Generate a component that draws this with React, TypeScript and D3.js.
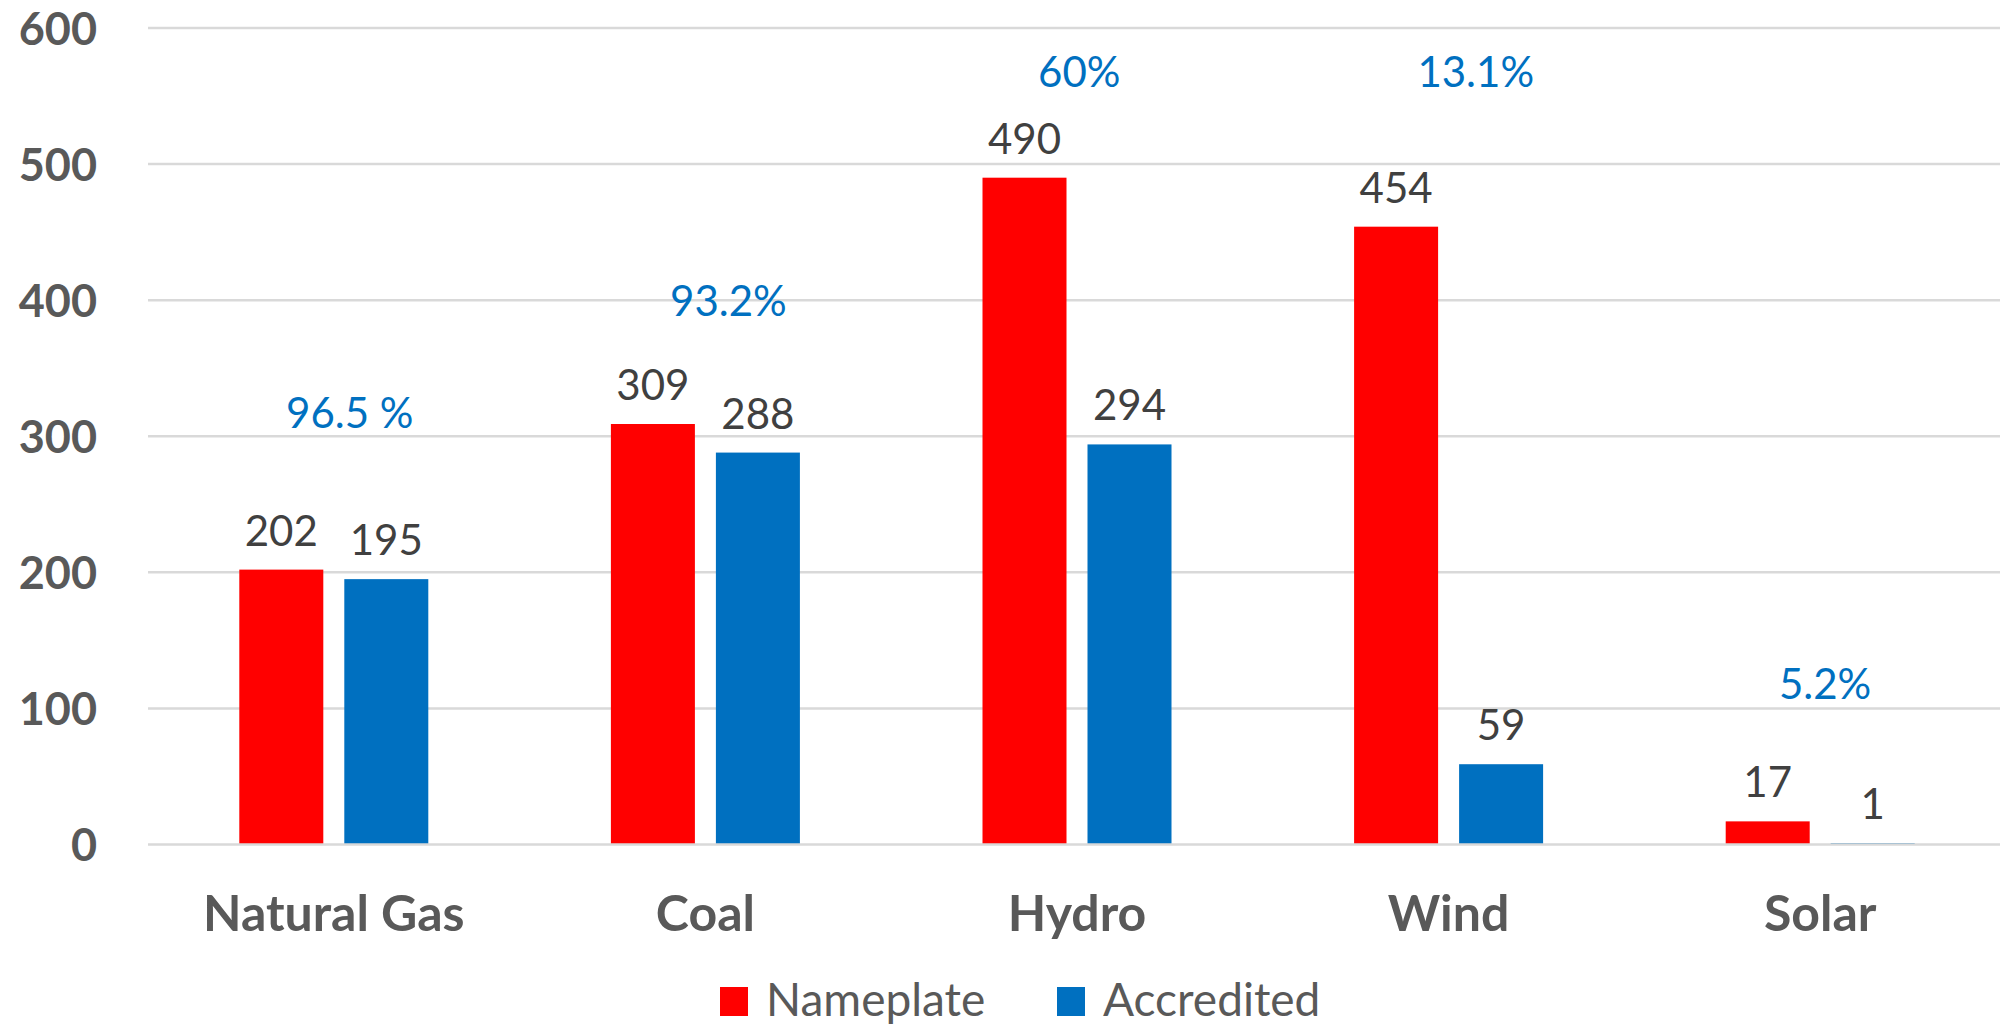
import React from "react";
import * as d3 from "d3";

const categories = ["Natural Gas", "Coal", "Hydro", "Wind", "Solar"];
const nameplate = [202, 309, 490, 454, 17];
const accredited = [195, 288, 294, 59, 1];
const pctLabels = ["96.5 %", "93.2%", "60%", "13.1%", "5.2%"];
// where the percentage annotations sit: baseline in data units, x shift as share of band
const pctLevel = [306, 388, 557, 557, 106.7];
const pctShift = [0.043, 0.062, 0.006, 0.073, 0.013];
const yTicks = [0, 100, 200, 300, 400, 500, 600];
const seriesNames = ["Nameplate", "Accredited"];
const seriesColors = ["#FF0000", "#0070C0"];

const W = 2000;
const H = 1027;
const FONT = "Lato, 'Open Sans', sans-serif";

export default function App() {
  const x = d3.scaleBand<string>().domain(categories).range([148, 2006]).padding(0);
  const y = d3.scaleLinear().domain([0, 600]).range([844.5, 28]);
  const bw = 84;
  const gap = 21;
  const series = [nameplate, accredited];

  return (
    <svg
      width={W}
      height={H}
      style={{ position: "absolute", left: 0, top: 0, background: "#fff" }}
      fontFamily={FONT}
    >
      {yTicks.map((t) => (
        <g key={t}>
          {t !== 0 && (
            <line x1={148} x2={W} y1={y(t)} y2={y(t)} stroke="#d9d9d9" strokeWidth={2.5} />
          )}
          <text
            x={97}
            y={y(t) + 16.5}
            textAnchor="end"
            fontSize={45}
            fontWeight={700}
            fill="#595959"
          >
            {t}
          </text>
        </g>
      ))}
      {categories.map((c, i) => {
        const cx = (x(c) as number) + x.bandwidth() / 2;
        return (
          <g key={c}>
            {series.map((s, k) => {
              const x0 = k === 0 ? cx - gap / 2 - bw : cx + gap / 2;
              const v = s[i];
              return (
                <g key={k}>
                  <rect
                    x={x0}
                    y={y(v)}
                    width={bw}
                    height={y(0) - y(v)}
                    fill={seriesColors[k]}
                  />
                  <text
                    x={x0 + bw / 2}
                    y={y(v) - 24}
                    textAnchor="middle"
                    fontSize={42}
                    fill="#404040"
                  >
                    {v}
                  </text>
                </g>
              );
            })}
            <text
              x={cx + pctShift[i] * x.bandwidth()}
              y={y(pctLevel[i])}
              textAnchor="middle"
              fontSize={42}
              fill="#0070C0"
            >
              {pctLabels[i]}
            </text>
            <text
              x={cx}
              y={931}
              textAnchor="middle"
              fontSize={50}
              fontWeight={700}
              fill="#595959"
            >
              {c}
            </text>
          </g>
        );
      })}
      <line x1={148} x2={W} y1={y(0)} y2={y(0)} stroke="#d9d9d9" strokeWidth={2.5} />
      {seriesNames.map((n, k) => {
        const lx = k === 0 ? 720 : 1057;
        return (
          <g key={n}>
            <rect x={lx} y={987} width={28} height={29} fill={seriesColors[k]} />
            <text x={lx + 46} y={1016} fontSize={46} fill="#595959">
              {n}
            </text>
          </g>
        );
      })}
    </svg>
  );
}
